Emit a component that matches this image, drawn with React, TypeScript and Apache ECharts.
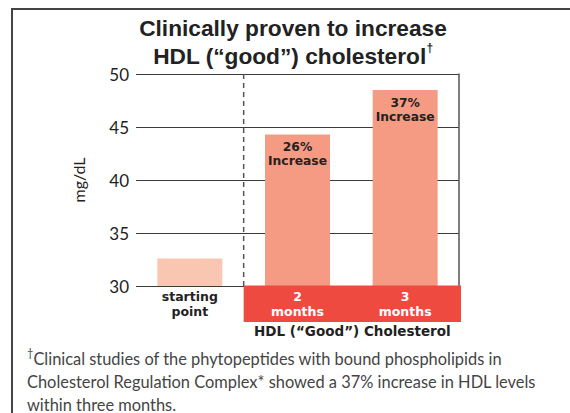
import React, { useEffect, useRef } from "react";
import * as echarts from "echarts";

const categories = ["starting point", "2 months", "3 months"];
const hdlValues = [32.6, 44.3, 48.5];
const increaseLabels = ["", "26%", "37%"];
const barColors = ["#f9c6b2", "#f59a83", "#f59a83"];
const yTicks = { min: 30, max: 50, interval: 5 };
const titleLines = ["Clinically proven to increase", "HDL (“good”) cholesterol"];
const axisTitle = "HDL (“Good”) Cholesterol";
const footnoteLines = [
  "Clinical studies of the phytopeptides with bound phospholipids in",
  "Cholesterol Regulation Complex* showed a 37% increase in HDL levels",
  "within three months.",
];

const BODY = "Lato, 'Noto Sans', sans-serif";
const BOLD = "'DejaVu Sans', sans-serif";
const HEAD = "'Liberation Sans', Arial, sans-serif";

export default function App() {
  const ref = useRef<HTMLDivElement | null>(null);
  useEffect(() => {
    if (!ref.current) return;
    const chart = echarts.init(ref.current, null, { renderer: "svg" });
    const option: any = {
      animation: false,
      backgroundColor: "#ffffff",
      title: {
        left: 288,
        top: 9,
        textAlign: "center",
        text: titleLines[0] + "\n" + titleLines[1] + "{sup|†}",
        textStyle: {
          fontFamily: HEAD,
          fontWeight: "bold",
          fontSize: 22.7,
          lineHeight: 28,
          color: "#222",
          rich: {
            sup: { fontSize: 12, verticalAlign: "top", color: "#222", fontFamily: HEAD, lineHeight: 28 },
          },
        },
      },
      grid: { left: 136, right: 111, top: 74, bottom: 127 },
      xAxis: {
        type: "category",
        data: categories,
        z: 10,
        axisLine: { show: false },
        axisTick: { show: false },
        splitLine: { show: false },
        axisLabel: {
          margin: 3,
          interval: 0,
          formatter: (v: string) => {
            const parts = v.split(" ");
            const st = v === categories[0] ? "d" : "w";
            return parts.map((p) => `{${st}|${p}}`).join("\n");
          },
          rich: {
            d: { fontFamily: BOLD, fontWeight: "bold", fontSize: 12.5, color: "#222", lineHeight: 15 },
            w: { fontFamily: BOLD, fontWeight: "bold", fontSize: 12.5, color: "#ffffff", lineHeight: 15 },
          },
        },
      },
      yAxis: [
        {
          type: "value",
          min: yTicks.min,
          max: yTicks.max,
          interval: yTicks.interval,
          name: "mg/dL",
          nameLocation: "middle",
          nameRotate: 90,
          nameGap: 50,
          nameTextStyle: { fontFamily: BODY, fontSize: 16, color: "#222" },
          axisLine: { show: false },
          axisTick: { show: false },
          axisLabel: { fontFamily: BODY, fontSize: 17, color: "#222", margin: 7 },
          splitLine: { show: true, lineStyle: { color: "#3a3a3a", width: 1.2 } },
        },
        {
          type: "value",
          position: "right",
          min: yTicks.min,
          max: yTicks.max,
          interval: yTicks.interval,
          axisLine: { show: true, lineStyle: { color: "#555", width: 1.5 } },
          axisTick: { show: false },
          axisLabel: { show: false },
          splitLine: { show: false },
        },
      ],
      series: [
        {
          type: "bar",
          barWidth: 65,
          z: 2,
          data: hdlValues.map((v, i) => ({
            value: v,
            itemStyle: { color: barColors[i] },
            label: { show: increaseLabels[i] !== "" },
          })),
          label: {
            show: true,
            position: "insideTop",
            distance: 6,
            formatter: (p: any) => `{a|${increaseLabels[p.dataIndex]}}\n{a|Increase}`,
            rich: {
              a: { fontFamily: BOLD, fontWeight: "bold", fontSize: 12.3, color: "#222", lineHeight: 14 },
            },
          },
        },
      ],
    };
    chart.setOption(option);

    const c1 = chart.convertToPixel({ xAxisIndex: 0 }, categories[1]) as number;
    const c2 = chart.convertToPixel({ xAxisIndex: 0 }, categories[2]) as number;
    const y30 = chart.convertToPixel({ yAxisIndex: 0 }, yTicks.min) as number;
    const y50 = chart.convertToPixel({ yAxisIndex: 0 }, yTicks.max) as number;
    const cw = c2 - c1;
    const bandLeft = c1 - cw / 2;
    const bandRight = c2 + cw / 2 + 2;
    chart.setOption({
      graphic: [
        {
          type: "rect",
          z: 5,
          shape: { x: 12, y: 9, width: 700, height: 600 },
          style: { fill: "none", stroke: "#444", lineWidth: 2 },
          silent: true,
        },
        {
          type: "line",
          z: 5,
          shape: { x1: bandLeft, y1: y50, x2: bandLeft, y2: y30 },
          style: { stroke: "#555", lineWidth: 1.5, lineDash: [5, 4] },
          silent: true,
        },
        {
          type: "rect",
          z: 5,
          shape: { x: bandLeft, y: y30 - 0.5, width: bandRight - bandLeft, height: 36.5 },
          style: { fill: "#ef4a3f" },
          silent: true,
        },
        {
          type: "text",
          z: 5,
          x: (bandLeft + bandRight) / 2,
          y: y30 + 38,
          style: {
            text: axisTitle,
            fontFamily: BOLD,
            fontWeight: "bold",
            fontSize: 13.5,
            fill: "#222",
            textAlign: "center",
          },
        },
        {
          type: "text",
          z: 5,
          x: 27,
          y: 347,
          style: {
            text: "{s|†}" + footnoteLines.map((l) => `{n|${l}}`).join("\n"),
            rich: {
              s: { fontSize: 11, verticalAlign: "top", fill: "#444", fontFamily: BODY, lineHeight: 23 },
              n: { fontSize: 16.4, fill: "#444", fontFamily: BODY, lineHeight: 23 },
            },
          },
        },
      ],
    });
    return () => chart.dispose();
  }, []);
  return (
    <div
      ref={ref}
      style={{ position: "fixed", left: 0, top: 0, width: 570, height: 413 }}
    />
  );
}
